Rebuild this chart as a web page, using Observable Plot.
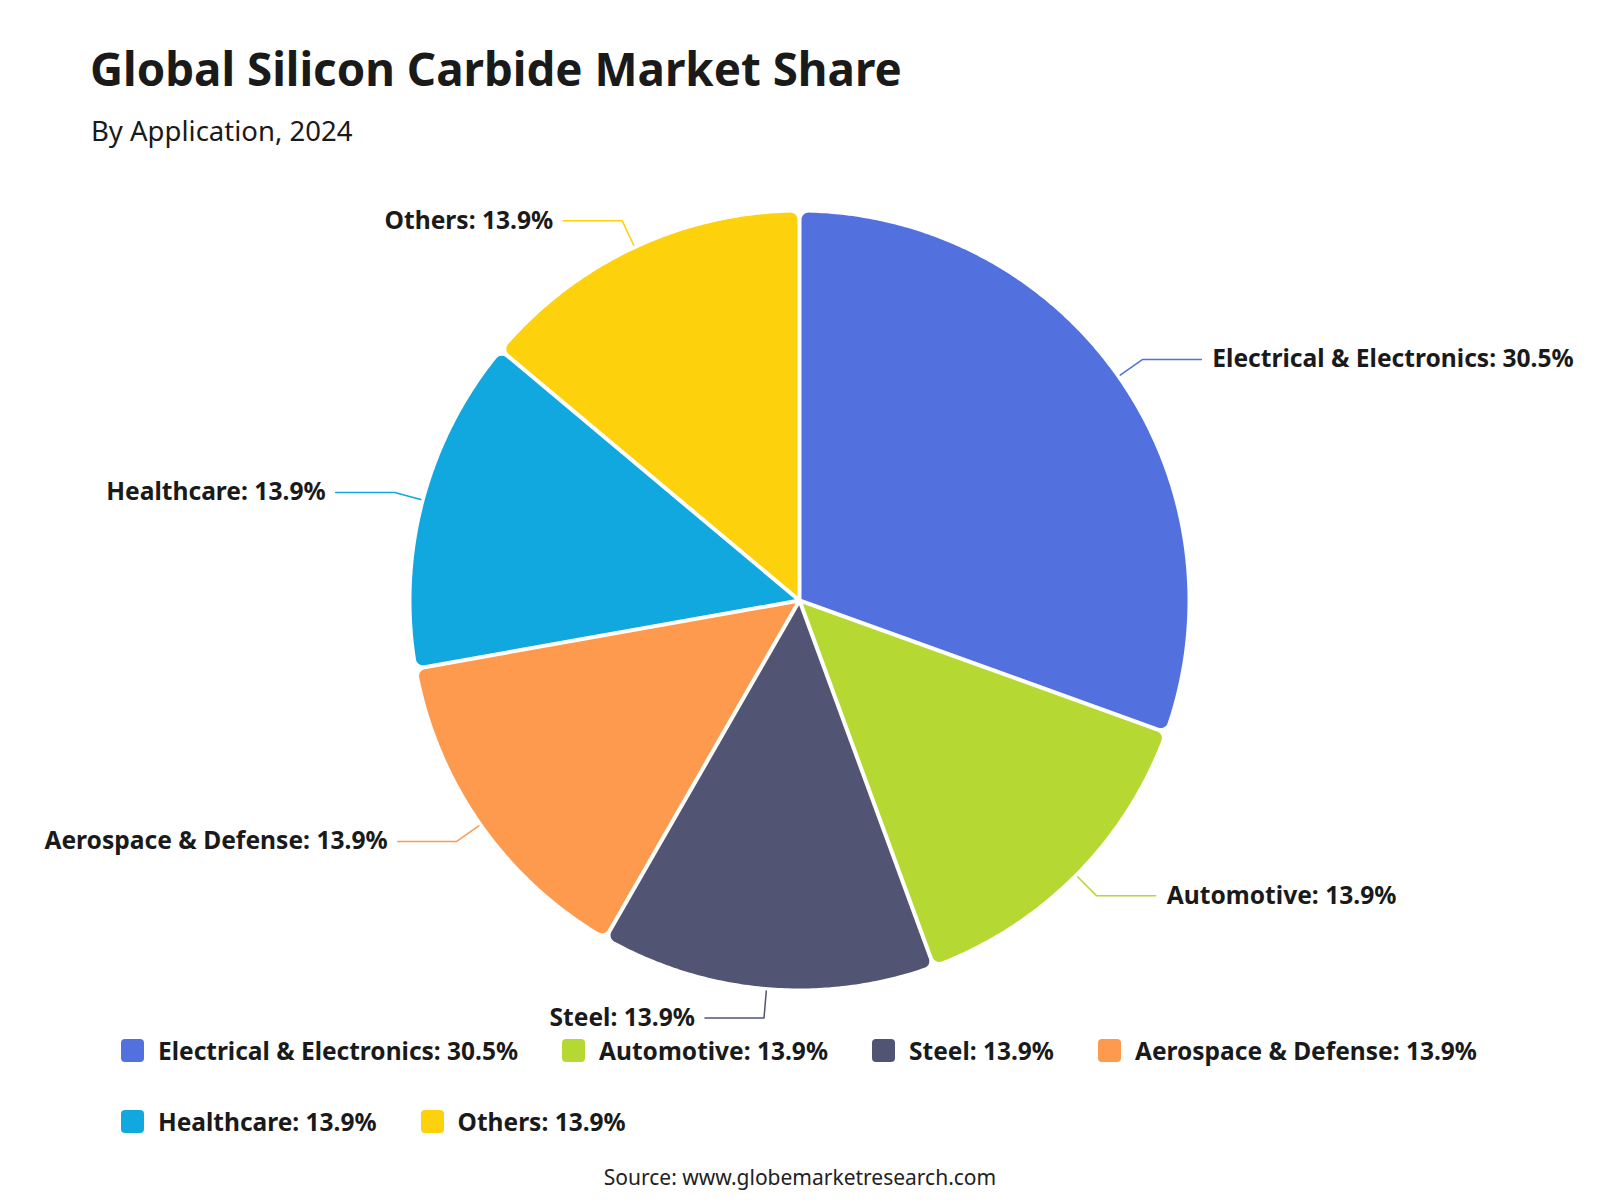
<!DOCTYPE html>
<html>
<head>
<meta charset="utf-8">
<script src="https://cdn.jsdelivr.net/npm/d3@7"></script>
<script src="https://cdn.jsdelivr.net/npm/@observablehq/plot@0.6"></script>
<style>
  html, body { margin: 0; padding: 0; background: #ffffff; }
  body { width: 1600px; height: 1200px; position: relative; font-family: "Noto Sans", "Open Sans", sans-serif; color: #1a1a1a; overflow: hidden; }
  #title { position: absolute; left: 90px; top: 40px; font-size: 45.7px; font-weight: 700; line-height: 56px; white-space: nowrap; }
  #subtitle { position: absolute; left: 91px; top: 114px; font-size: 27.5px; font-weight: 400; line-height: 34px; white-space: nowrap; }
  #chart { position: absolute; left: 0; top: 170px; }
  #legend { position: absolute; left: 121px; top: 1034px; width: 1450px; display: flex; flex-wrap: wrap; row-gap: 39px; }
  .item { display: flex; align-items: center; margin-right: 44px; height: 32px; font-size: 24.5px; font-weight: 700; white-space: nowrap; }
  .sw { width: 23px; height: 23px; border-radius: 4px; margin-right: 14px; }
  #source { position: absolute; left: 0; width: 1600px; top: 1163px; text-align: center; font-size: 21px; line-height: 28px; color: #222; }
</style>
</head>
<body>
<div id="title">Global Silicon Carbide Market Share</div>
<div id="subtitle">By Application, 2024</div>
<div id="chart"></div>
<div id="legend"></div>
<div id="source">Source: www.globemarketresearch.com</div>
<script>
const categories = ["Electrical & Electronics", "Automotive", "Steel", "Aerospace & Defense", "Healthcare", "Others"];
const shares = [30.5, 13.9, 13.9, 13.9, 13.9, 13.9];
const colors = ["#5271de", "#b6d833", "#525473", "#fe9a4e", "#10a8df", "#fdd10b"];

const fmt = (c, v) => `${c}: ${v.toFixed(1)}%`;

// geometry settings (pixel-equivalent units)
const R = 388, cr = 7, g = 2;
const polar = (a, r) => [r * Math.sin(a), -r * Math.cos(a)];
const add = (p, q) => [p[0] + q[0], p[1] + q[1]];

const arcs = d3.pie().sort(null).value(v => v)(shares);

const slicePts = [];
const leaderPts = [];
const labels = [];
arcs.forEach((a, i) => {
  const cat = categories[i];
  const a0 = a.startAngle, a1 = a.endAngle;
  const span = a1 - a0;
  const mid = (a0 + a1) / 2;
  const rc = R - cr;
  const dth = Math.asin((g + cr) / rc);
  const th0 = a0 + dth, th1 = a1 - dth;
  const c0 = polar(th0, rc), c1 = polar(th1, rc);
  const poly = [];
  const apex = polar(mid, g / Math.sin(span / 2));
  poly.push(apex);
  const m = 10;
  for (let k = 0; k <= m; k++) { const psi = (a0 - Math.PI / 2) + (th0 - (a0 - Math.PI / 2)) * k / m; poly.push(add(c0, polar(psi, cr))); }
  const n = Math.max(8, Math.ceil((th1 - th0) / (Math.PI / 360)));
  for (let k = 1; k < n; k++) poly.push(polar(th0 + (th1 - th0) * k / n, R));
  for (let k = 0; k <= m; k++) { const psi = th1 + ((a1 + Math.PI / 2) - th1) * k / m; poly.push(add(c1, polar(psi, cr))); }
  poly.push(apex);
  poly.forEach(([x, y]) => slicePts.push({cat, x, y}));

  const side = Math.sin(mid) >= 0 ? 1 : -1;
  const p1 = polar(mid, R + 4), p2 = polar(mid, R + 31);
  const p3 = [p2[0] + side * 59, p2[1]];
  [p1, p2, p3].forEach(([x, y]) => leaderPts.push({cat, x, y}));
  labels.push({cat, x: p3[0], y: p3[1], side, text: fmt(cat, shares[i])});
});

const W = 1600, H = 860, cx = 799, cy = 430;
const plot = Plot.plot({
  width: W, height: H,
  marginTop: 0, marginRight: 0, marginBottom: 0, marginLeft: 0,
  x: {domain: [-cx, W - cx], axis: null},
  y: {domain: [H - cy, -cy], axis: null},
  color: {domain: categories, range: colors},
  style: {fontFamily: "'Noto Sans', 'Open Sans', sans-serif", background: "transparent", overflow: "visible"},
  marks: [
    Plot.line(slicePts, {x: "x", y: "y", z: "cat", fill: "cat", stroke: "none", curve: "linear"}),
    Plot.line(leaderPts, {x: "x", y: "y", z: "cat", stroke: "cat", strokeWidth: 1.5, curve: "linear"}),
    Plot.text(labels.filter(l => l.side > 0), {x: "x", y: "y", text: "text", textAnchor: "start", dx: 11, fontSize: 24.6, fontWeight: 700, fill: "#1a1a1a"}),
    Plot.text(labels.filter(l => l.side < 0), {x: "x", y: "y", text: "text", textAnchor: "end", dx: -10, fontSize: 24.6, fontWeight: 700, fill: "#1a1a1a"})
  ]
});
document.getElementById("chart").appendChild(plot);

const legend = document.getElementById("legend");
categories.forEach((c, i) => {
  const it = document.createElement("div");
  it.className = "item";
  const sw = document.createElement("div");
  sw.className = "sw";
  sw.style.background = colors[i];
  const tx = document.createElement("span");
  tx.textContent = fmt(c, shares[i]);
  it.appendChild(sw); it.appendChild(tx);
  legend.appendChild(it);
});
</script>
</body>
</html>
